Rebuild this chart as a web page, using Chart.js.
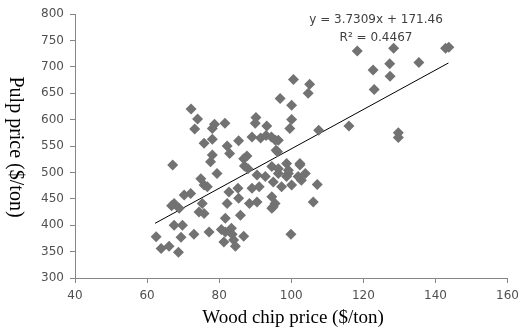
<!DOCTYPE html>
<html>
<head>
<meta charset="utf-8">
<script src="https://cdn.jsdelivr.net/npm/chart.js@4/dist/chart.umd.min.js"></script>
<style>
  html, body { margin: 0; padding: 0; background: #fff; }
  #wrap { width: 525px; height: 331px; }
</style>
</head>
<body>
<div id="wrap"><canvas id="scatter"></canvas></div>
<script>
// wood chip price ($/ton) and pulp price ($/ton)
const woodChip = [
  62.5, 63.9, 66.1, 68.7, 67.5, 69.8, 69.4, 73.0, 77.2, 67.5, 68.9, 66.8, 70.3, 72.1, 67.1,
  75.3, 74.4, 75.8, 74.9, 75.8, 76.7, 79.4, 77.6, 78.1,
  72.2, 74.0, 73.2, 75.8, 78.1, 78.7, 78.1, 81.6, 82.2, 82.9, 85.4, 87.7, 87.0, 90.2, 90.0,
  93.2, 89.1, 91.5, 93.0, 94.5, 96.4, 95.8, 86.8,
  82.7, 82.2, 85.2, 85.4, 85.9, 81.7, 80.6, 83.4, 81.3, 84.0, 84.5, 86.8, 83.6, 81.7, 88.0,
  90.5, 89.1, 91.1, 92.8, 88.4, 90.5, 94.6, 96.4, 95.0, 94.6, 95.5, 94.6, 95.0, 97.3, 100.1,
  99.2, 96.4, 102.4, 102.8, 107.2, 106.1, 99.9, 98.7, 96.2, 95.6, 102.4, 98.7, 101.9, 99.2, 103.9,
  96.9, 100.6, 105.1, 104.7, 100.1, 100.1, 99.6, 107.6, 116.0, 118.3, 122.7, 123.0, 127.3, 127.4,
  128.4, 129.7, 129.7, 135.4, 143.7, 142.8
]
const pulp = [
  378, 356, 360, 349, 400, 400, 377, 383, 387, 441, 432, 437, 457, 460, 514,
  441, 425, 422, 488, 476, 473, 498, 520, 533,
  620, 601, 582, 555, 563, 591, 583, 593, 550, 536, 560, 531, 512, 604, 593,
  588, 567, 565, 570, 567, 561, 542, 526,
  463, 441, 470, 451, 419, 413, 392, 394, 368, 372, 360, 379, 383, 387, 507,
  495, 470, 473, 492, 441, 444, 511, 498, 482, 454, 441, 432, 435, 473, 476,
  498, 507, 514, 485, 477, 444, 383, 517, 539, 561, 517, 492, 492, 504, 498,
  640, 676, 667, 650, 627, 600, 583, 580, 588, 730, 694, 657, 706, 682,
  735, 575, 566, 708, 737, 735
]

// linear trendline as printed on the chart
const slope = 3.7309
const intercept = 171.46
const trendX = [62.2, 143.6]
const trendLabel = ['y = 3.7309x + 171.46', 'R\u00b2 = 0.4467']

const xTicks = [40, 60, 80, 100, 120, 140, 160]
const yTicks = [300, 350, 400, 450, 500, 550, 600, 650, 700, 750, 800]

const points = woodChip.map((x, i) => ({ x: x, y: pulp[i] }))
const trend = trendX.map(x => ({ x: x, y: slope * x + intercept }))

// axis titles and the equation box, drawn by hand
const extras = {
  id: 'extras',
  afterDraw(chart) {
    const ctx = chart.ctx
    ctx.save()
    ctx.fillStyle = '#000'
    ctx.font = '19px "Liberation Serif", serif'
    ctx.textAlign = 'center'
    ctx.textBaseline = 'middle'
    ctx.fillText('Wood chip price ($/ton)', 293, 318)
    ctx.translate(15, 147)
    ctx.rotate(Math.PI / 2)
    ctx.font = '20px "Liberation Serif", serif'
    ctx.fillText('Pulp price ($/ton)', 0, 0)
    ctx.restore()

    ctx.save()
    ctx.fillStyle = '#404040'
    ctx.font = '12px "DejaVu Sans", sans-serif'
    ctx.textAlign = 'center'
    ctx.textBaseline = 'middle'
    ctx.fillText(trendLabel[0], 376, 20)
    ctx.fillText(trendLabel[1], 376, 38)
    ctx.restore()
  }
}

const axisGray = '#868686'
const tickFont = { family: '"DejaVu Sans", sans-serif', size: 12 }

new Chart(document.getElementById('scatter').getContext('2d'), {
  type: 'scatter',
  data: {
    datasets: [
      {
        label: 'Pulp vs wood chip',
        data: points,
        pointStyle: 'rectRot',
        pointRadius: 5.5,
        pointBackgroundColor: '#727272',
        pointBorderWidth: 0,
        borderColor: '#727272',
      },
      {
        type: 'line',
        label: 'Trend',
        data: trend,
        borderColor: '#000',
        borderWidth: 1,
        pointRadius: 0,
        fill: false,
      },
    ],
  },
  options: {
    responsive: true,
    maintainAspectRatio: false,
    animation: false,
    layout: { padding: { top: 14, right: 11, left: 0, bottom: 0 } },
    plugins: {
      legend: { display: false },
      tooltip: { enabled: false },
    },
    scales: {
      x: {
        type: 'linear',
        min: 40,
        max: 160,
        afterBuildTicks: s => { s.ticks = xTicks.map(v => ({ value: v })) },
        afterFit: s => { s.height = 53 },
        grid: { drawOnChartArea: false, tickLength: 5, color: axisGray },
        border: { color: axisGray },
        ticks: { font: tickFont, color: '#505050', padding: 6, maxRotation: 0 },
      },
      y: {
        type: 'linear',
        min: 300,
        max: 800,
        afterBuildTicks: s => { s.ticks = yTicks.map(v => ({ value: v })) },
        afterFit: s => { s.width = 75 },
        grid: { drawOnChartArea: false, tickLength: 5, color: axisGray },
        border: { color: axisGray },
        ticks: { font: tickFont, color: '#505050', padding: 6 },
      },
    },
  },
  plugins: [extras],
})
</script>
</body>
</html>
